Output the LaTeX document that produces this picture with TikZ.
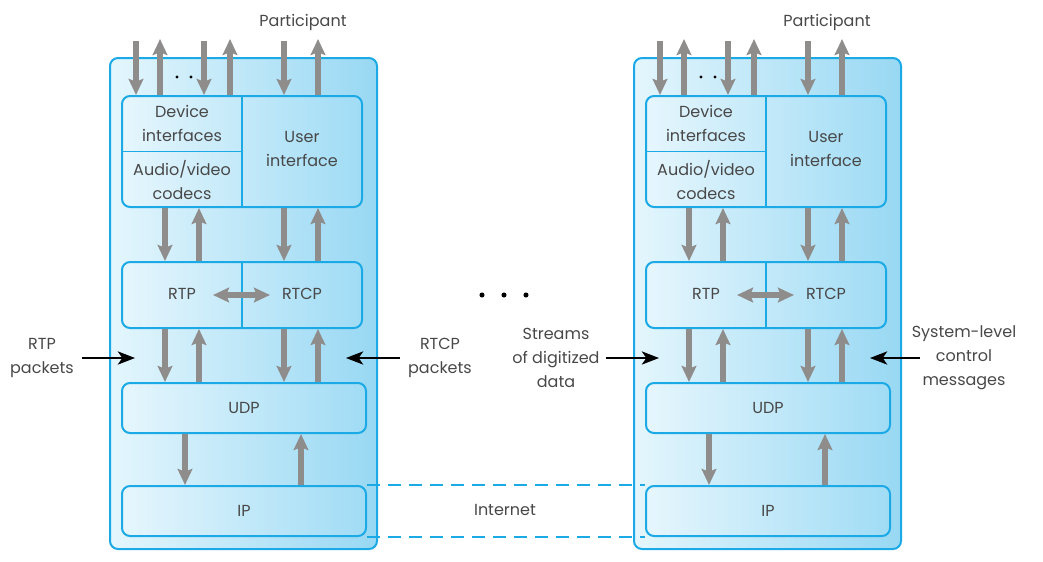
\documentclass[tikz,border=0pt]{standalone}
\usepackage{fontspec}
\setmainfont{Poppins}
\usetikzlibrary{arrows.meta,calc}
\definecolor{bstroke}{RGB}{28,170,230}
\definecolor{gleft}{RGB}{228,246,253}
\definecolor{gright}{RGB}{152,216,243}
\definecolor{ileft}{RGB}{230,246,253}
\definecolor{iright}{RGB}{160,220,245}
\definecolor{garr}{RGB}{143,140,140}
\definecolor{txt}{RGB}{72,72,72}
\newcommand\pxu{0.75pt}
\tikzset{
  outerbox/.style={draw=bstroke, line width=1.5pt, rounded corners=6pt, left color=gleft, right color=gright, inner sep=0},
  innerbox/.style={draw=bstroke, line width=1.5pt, rounded corners=6pt, left color=ileft, right color=iright, inner sep=0, text=txt, font=\fontsize{12}{18}\selectfont},
  divline/.style={draw=bstroke, line width=1.2pt},
  lbl/.style={text=txt, font=\fontsize{12}{18}\selectfont, align=center, inner sep=0},
  garrow/.style={draw=garr, line width=4.5pt, -{Stealth[length=12pt,width=11pt,inset=2pt]}},
  barrow/.style={draw=black, line width=0.9pt, -{Stealth[length=13pt,width=10pt,inset=3.5pt]}},
  dashline/.style={draw=bstroke, line width=1.4pt, dash pattern=on 9.75pt off 6pt},
}
\newcommand\stackcol[2]{%
\begin{scope}[xshift={#2*0.75pt}]
  \node[outerbox, minimum width={267*\pxu}, minimum height={491*\pxu}] (#1out) at (243.5,303.5) {};
  \node[innerbox, minimum width={240*\pxu}, minimum height={111*\pxu}] (#1top) at (242,151.5) {};
  \draw[divline] (#1top.north) -- (#1top.south);
  \draw[divline] (#1top.west) -- (#1top.center);
  \node[innerbox, minimum width={240*\pxu}, minimum height={66*\pxu}] (#1rtp) at (242,295) {};
  \draw[divline] (#1rtp.north) -- (#1rtp.south);
  \node[innerbox, minimum width={244*\pxu}, minimum height={50*\pxu}] (#1udp) at (244,408) {UDP};
  \node[innerbox, minimum width={244*\pxu}, minimum height={50*\pxu}] (#1ip) at (244,511) {IP};
  \node[lbl] (#1dev) at (182,123) {Device\\interfaces};
  \node[lbl] (#1cod) at (182,180) {Audio/video\\codecs};
  \node[lbl] (#1ui) at (302,149) {User\\interface};
  \node[lbl] (#1rtpt) at (182,294) {RTP};
  \node[lbl] (#1rtcpt) at (302,294) {RTCP};
  \node[lbl] (#1part) at (303,22) {Participant};
  % participant arrows
  \foreach \dx in {15,83,163}{
    \draw[garrow] ([xshift={\dx*\pxu},yshift={54*\pxu}]#1top.north west) -- ([xshift={\dx*\pxu}]#1top.north west);}
  \foreach \dx in {39,109,197}{
    \draw[garrow] ([xshift={\dx*\pxu}]#1top.north west) -- ([xshift={\dx*\pxu},yshift={56*\pxu}]#1top.north west);}
  \fill[black] (177,77) circle (1.3pt);
  \fill[black] (191,77) circle (1.3pt);
  % top -> rtp -> udp
  \foreach \dx in {44,163}{
    \draw[garrow] ([xshift={\dx*\pxu}]#1top.south west) -- ([xshift={\dx*\pxu}]#1rtp.north west);
    \draw[garrow] ([xshift={\dx*\pxu}]#1rtp.south west) -- ([xshift={\dx*\pxu}]#1udp.north west);}
  \foreach \dx in {78,197}{
    \draw[garrow] ([xshift={\dx*\pxu}]#1rtp.north west) -- ([xshift={\dx*\pxu}]#1top.south west);
    \draw[garrow] ([xshift={\dx*\pxu}]#1udp.north west) -- ([xshift={\dx*\pxu}]#1rtp.south west);}
  \draw[garrow] ([xshift={64*\pxu}]#1udp.south west) -- ([xshift={64*\pxu}]#1ip.north west);
  \draw[garrow] ([xshift={180*\pxu}]#1ip.north west) -- ([xshift={180*\pxu}]#1udp.south west);
  \draw[garrow, {Stealth[length=12pt,width=11pt,inset=2pt]}-{Stealth[length=12pt,width=11pt,inset=2pt]}]
    ([xshift={-29*\pxu}]#1rtp.center) -- ([xshift={28*\pxu}]#1rtp.center);
\end{scope}}
\begin{document}
\begin{tikzpicture}[x=0.75pt,y=-0.75pt]
  \useasboundingbox (0,0) rectangle (1043,561);
  \stackcol{L}{0}
  \stackcol{R}{524}
  % side labels
  \node[lbl] (rtppk) at (42,358) {RTP\\packets};
  \coordinate (rtpS) at (82,358); \coordinate (rtpE) at (135,358);
  \draw[barrow] (rtpS) -- (rtpE);
  \node[lbl] (rtcppk) at (440,358) {RTCP\\packets};
  \coordinate (rtcpS) at (400,358); \coordinate (rtcpE) at (346,358);
  \draw[barrow] (rtcpS) -- (rtcpE);
  \node[lbl] (streams) at (556,358) {Streams\\of digitized\\data};
  \coordinate (strS) at (606,358); \coordinate (strE) at (659,358);
  \draw[barrow] (strS) -- (strE);
  \node[lbl] (sysmsg) at (964,358) {System-level\\control\\messages};
  \coordinate (sysS) at (920,358); \coordinate (sysE) at (870,358);
  \draw[barrow] (sysS) -- (sysE);
  % middle dots
  \fill[black] (482,295) circle (1.9pt);
  \fill[black] (504,295) circle (1.9pt);
  \fill[black] (526,295) circle (1.9pt);
  % internet
  \draw[dashline] (Lip.north east) -- (Rip.north west);
  \draw[dashline] (Lip.south east) -- (Rip.south west);
  \node[lbl] (inet) at (505,510) {Internet};
\end{tikzpicture}
\end{document}
